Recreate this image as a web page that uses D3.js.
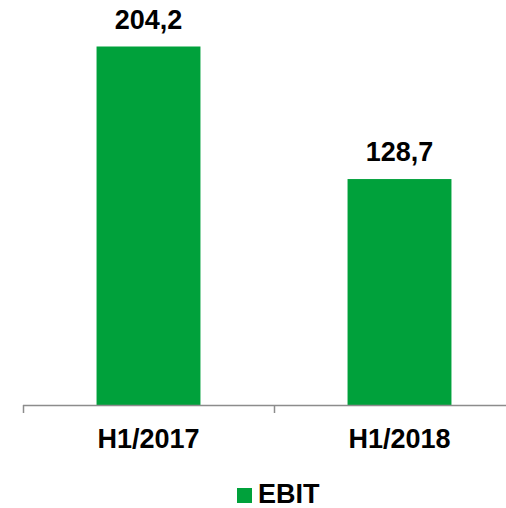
<!DOCTYPE html>
<html>
<head>
<meta charset="utf-8">
<script src="https://cdn.jsdelivr.net/npm/d3@7"></script>
<style>
  body { margin: 0; background: #fff; }
  text { font-family: "Liberation Sans", Arial, sans-serif; font-weight: bold; fill: #000; }
</style>
</head>
<body>
<script>
let categories = ["H1/2017", "H1/2018"];
let ebitValues = [204.2, 128.7];
let valueLabels = ["204,2", "128,7"];
let seriesName = "EBIT";

let width = 506, height = 508;
let barColor = "#00a13b";
let axisY = 405;

let svg = d3.select("body").append("svg")
    .attr("width", width)
    .attr("height", height);

let xScale = d3.scaleBand()
    .domain(categories)
    .range([23, 525])
    .paddingInner(0.586)
    .paddingOuter(0.293);

let yScale = d3.scaleLinear()
    .domain([0, d3.max(ebitValues)])
    .range([axisY, 46.5]);

let data = categories.map((c, i) => ({cat: c, value: ebitValues[i], label: valueLabels[i]}));

// bars
svg.selectAll("rect.bar")
    .data(data)
    .enter().append("rect")
    .attr("class", "bar")
    .attr("fill", barColor)
    .attr("x", d => xScale(d.cat))
    .attr("y", d => yScale(d.value))
    .attr("width", xScale.bandwidth())
    .attr("height", d => axisY - yScale(d.value));

// value labels
svg.selectAll("text.val")
    .data(data)
    .enter().append("text")
    .attr("class", "val")
    .attr("x", d => xScale(d.cat) + xScale.bandwidth() / 2)
    .attr("y", d => yScale(d.value) - 18)
    .attr("text-anchor", "middle")
    .style("font-size", "27px")
    .text(d => d.label);

// axis line with ticks on band edges
let step = xScale.step();
let x0 = xScale.range()[0];
svg.append("line")
    .attr("x1", x0).attr("x2", xScale.range()[1])
    .attr("y1", axisY + 0.5).attr("y2", axisY + 0.5)
    .attr("stroke", "#8c8c8c")
    .attr("stroke-width", 1.5);

svg.selectAll("line.tick")
    .data(d3.range(categories.length + 1))
    .enter().append("line")
    .attr("class", "tick")
    .attr("x1", i => x0 + i * step + 0.5)
    .attr("x2", i => x0 + i * step + 0.5)
    .attr("y1", axisY)
    .attr("y2", axisY + 8)
    .attr("stroke", "#8c8c8c")
    .attr("stroke-width", 1.5);

// category labels
svg.selectAll("text.cat")
    .data(categories)
    .enter().append("text")
    .attr("class", "cat")
    .attr("x", d => xScale(d) + xScale.bandwidth() / 2)
    .attr("y", 448)
    .attr("text-anchor", "middle")
    .style("font-size", "27px")
    .text(d => d);

// legend
svg.append("rect")
    .attr("x", 237)
    .attr("y", 488)
    .attr("width", 15)
    .attr("height", 15)
    .attr("fill", barColor);

svg.append("text")
    .attr("x", 258)
    .attr("y", 503)
    .style("font-size", "27px")
    .text(seriesName);
</script>
</body>
</html>
